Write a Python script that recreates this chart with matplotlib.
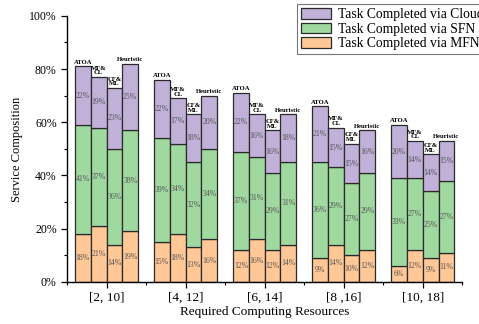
import numpy as np
import matplotlib
matplotlib.use('Agg')
import matplotlib.pyplot as plt
from matplotlib.patches import Patch

plt.rcParams['font.family'] = ['Liberation Serif', 'DejaVu Serif']

groups = ['[2, 10]', '[4, 12]', '[6, 14]', '[8 ,16]', '[10, 18]']
schemes = ['ATOA', 'MF&\nCL', 'CF&\nML', 'Heuristic']

# percentages per scheme, one value per resource range
mfn = {
    'ATOA': [18, 15, 12, 9, 6],
    'MF&\nCL': [21, 18, 16, 14, 12],
    'CF&\nML': [14, 13, 12, 10, 9],
    'Heuristic': [19, 16, 14, 12, 11],
}
sfn = {
    'ATOA': [41, 39, 37, 36, 33],
    'MF&\nCL': [37, 34, 31, 29, 27],
    'CF&\nML': [36, 32, 29, 27, 25],
    'Heuristic': [38, 34, 31, 29, 27],
}
cloud = {
    'ATOA': [22, 22, 22, 21, 20],
    'MF&\nCL': [19, 17, 16, 15, 14],
    'CF&\nML': [23, 18, 16, 15, 14],
    'Heuristic': [25, 20, 18, 16, 15],
}

c_mfn = '#FFC896'
c_sfn = '#A0D9A0'
c_cloud = '#C1B1D9'
edge = '#2a2a2a'
txt = '#555555'

fig = plt.figure(figsize=(4.79, 3.24), dpi=100)
ax = fig.add_axes([0.140, 0.130, 0.825, 0.821])

x = np.arange(len(groups))
w = 0.2
offsets = [-1.5 * w, -0.5 * w, 0.5 * w, 1.5 * w]

for s, off in zip(schemes, offsets):
    xs = x + off
    a = np.array(mfn[s])
    b = np.array(sfn[s])
    c = np.array(cloud[s])
    ax.bar(xs, a, w, color=c_mfn, edgecolor=edge, linewidth=0.9)
    ax.bar(xs, b, w, bottom=a, color=c_sfn, edgecolor=edge, linewidth=0.9)
    ax.bar(xs, c, w, bottom=a + b, color=c_cloud, edgecolor=edge, linewidth=0.9)
    for i in range(len(groups)):
        ax.text(xs[i], a[i] / 2, f'{a[i]}%', ha='center', va='center', fontsize=5.6, color=txt)
        ax.text(xs[i], a[i] + b[i] / 2, f'{b[i]}%', ha='center', va='center', fontsize=5.6, color=txt)
        ax.text(xs[i], a[i] + b[i] + c[i] / 2, f'{c[i]}%', ha='center', va='center', fontsize=5.6, color=txt)
        top = a[i] + b[i] + c[i]
        ax.text(xs[i], top + 0.6, s, ha='center', va='bottom', fontsize=4.8,
                fontweight='bold', linespacing=0.9)

ax.set_xlim(-0.5, 4.5)
ax.set_ylim(0, 100)
ax.set_xticks(x)
ax.set_xticklabels(groups, fontsize=9.5)
ax.set_xticks(np.arange(-0.5, 5.0, 1.0), minor=True)
ax.set_yticks(np.arange(0, 101, 20))
ax.set_yticklabels([f'{v}%' for v in range(0, 101, 20)], fontsize=8.5)
ax.set_yticks(np.arange(10, 100, 20), minor=True)
ax.tick_params(axis='both', which='major', direction='out', length=4, width=0.9)
ax.tick_params(axis='both', which='minor', direction='out', length=2.5, width=0.8)
ax.tick_params(axis='x', which='major', pad=3)
for side in ['top', 'right']:
    ax.spines[side].set_visible(False)
for side in ['left', 'bottom']:
    ax.spines[side].set_linewidth(1.0)

ax.set_ylabel('Service Composition', fontsize=9)
ax.set_xlabel('Required Computing Resources', fontsize=9.5, labelpad=2)

handles = [Patch(facecolor=c_cloud, edgecolor=edge, linewidth=0.9),
           Patch(facecolor=c_sfn, edgecolor=edge, linewidth=0.9),
           Patch(facecolor=c_mfn, edgecolor=edge, linewidth=0.9)]
labels = ['Task Completed via Cloud', 'Task Completed via SFN', 'Task Completed via MFN']
leg = fig.legend(handles, labels, loc='upper left', bbox_to_anchor=(297 / 479, 1 - 4 / 324),
                 fontsize=9.8, frameon=True, fancybox=False, edgecolor='#555555',
                 handlelength=2.2, handleheight=0.8, handletextpad=0.5,
                 labelspacing=0.12, borderpad=0.3, borderaxespad=0)
leg.get_frame().set_linewidth(0.8)

fig.savefig('out.png', dpi=100)
